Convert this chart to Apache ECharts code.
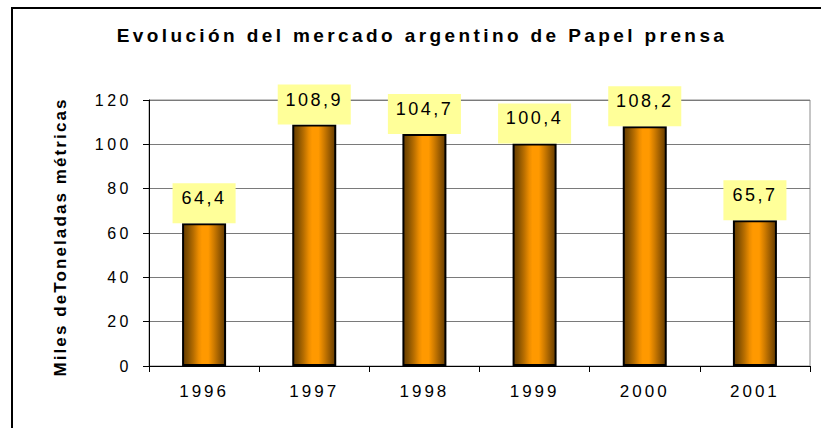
<!DOCTYPE html>
<html>
<head>
<meta charset="utf-8">
<script src="https://cdn.jsdelivr.net/npm/echarts@6/dist/echarts.min.js"></script>
<style>
  html, body { margin: 0; padding: 0; background: #fff; }
  #chart { width: 821px; height: 428px; }
</style>
</head>
<body>
<div id="chart"></div>
<script>
const years = ['1996', '1997', '1998', '1999', '2000', '2001']
const values = [64.4, 108.9, 104.7, 100.4, 108.2, 65.7]
const yTicks = { min: 0, max: 120, interval: 20 }
const titleText = 'Evolución del mercado argentino de Papel prensa'
const yName = 'Miles deToneladas métricas'

const myChart = echarts.init(document.getElementById('chart'), null, { renderer: 'svg' })

// bandas del cilindro (oscuro - claro - oscuro)
const barColor = new echarts.graphic.LinearGradient(0, 0, 1, 0, [
  { offset: 0, color: '#663c00' },
  { offset: 0.12, color: '#865200' },
  { offset: 0.25, color: '#b86e00' },
  { offset: 0.37, color: '#eb8c00' },
  { offset: 0.45, color: '#ff9900' },
  { offset: 0.6, color: '#ff9900' },
  { offset: 0.73, color: '#d07c00' },
  { offset: 0.87, color: '#985a00' },
  { offset: 1, color: '#663c00' }
])

const option = {
  animation: false,
  backgroundColor: '#fff',
  graphic: [
    {
      type: 'rect',
      shape: { x: 12, y: 8, width: 900, height: 500 },
      style: { fill: 'none', stroke: '#000', lineWidth: 2 }
    },
    {
      type: 'text',
      x: 422,
      y: 35,
      style: {
        text: titleText,
        x: 0,
        y: 0,
        textAlign: 'center',
        textVerticalAlign: 'middle',
        font: 'bold 19px Arial, "Liberation Sans", sans-serif',
        fill: '#000'
      }
    }
  ],
  grid: {
    left: 149,
    right: 11,
    top: 100,
    bottom: 62,
    show: true,
    borderColor: '#8c8c8c',
    borderWidth: 1,
    backgroundColor: '#fff'
  },
  xAxis: {
    type: 'category',
    data: years,
    axisLine: { lineStyle: { color: '#000', width: 1 } },
    axisTick: { show: true, length: 6, lineStyle: { color: '#000' } },
    axisLabel: {
      margin: 17,
      color: '#000',
      fontSize: 17,
      fontFamily: 'Arial, "Liberation Sans", sans-serif'
    }
  },
  yAxis: {
    type: 'value',
    min: yTicks.min,
    max: yTicks.max,
    interval: yTicks.interval,
    name: yName,
    nameLocation: 'middle',
    nameGap: 80,
    nameTextStyle: {
      color: '#000',
      fontSize: 17,
      fontWeight: 'bold',
      fontFamily: 'Arial, "Liberation Sans", sans-serif',
      padding: [0, 8, 0, 0]
    },
    axisLine: { show: true, lineStyle: { color: '#000', width: 1 } },
    axisTick: { show: true, length: 6, lineStyle: { color: '#000' } },
    splitLine: { show: true, lineStyle: { color: '#7a7a7a', width: 1 } },
    axisLabel: {
      margin: 17,
      color: '#000',
      fontSize: 16,
      fontFamily: 'Arial, "Liberation Sans", sans-serif'
    }
  },
  series: [
    {
      type: 'bar',
      data: values,
      barWidth: 44,
      itemStyle: {
        color: barColor,
        borderColor: '#000',
        borderWidth: 2
      },
      label: {
        show: true,
        position: 'top',
        distance: 0,
        formatter: (p) => String(p.value).replace('.', ','),
        color: '#000',
        fontSize: 18,
        fontFamily: 'Arial, "Liberation Sans", sans-serif',
        backgroundColor: '#ffff99',
        padding: [6, 14, 16, 14]
      }
    }
  ]
}

option && myChart.setOption(option)

// espaciado de letras como en el original (Excel)
function spaceLetters () {
  document.querySelectorAll('#chart text').forEach(function (el) {
    const cs = getComputedStyle(el)
    const size = parseFloat(cs.fontSize)
    const bold = parseInt(cs.fontWeight, 10) >= 600
    let ls = 3
    if (bold && size >= 19) ls = 3.4
    else if (bold) ls = 2.1
    else if (size >= 18) ls = 2.5
    else if (size >= 17) ls = 3
    else ls = 3.5
    el.style.letterSpacing = ls + 'px'
  })
}
spaceLetters()
myChart.on('finished', spaceLetters)
</script>
</body>
</html>
